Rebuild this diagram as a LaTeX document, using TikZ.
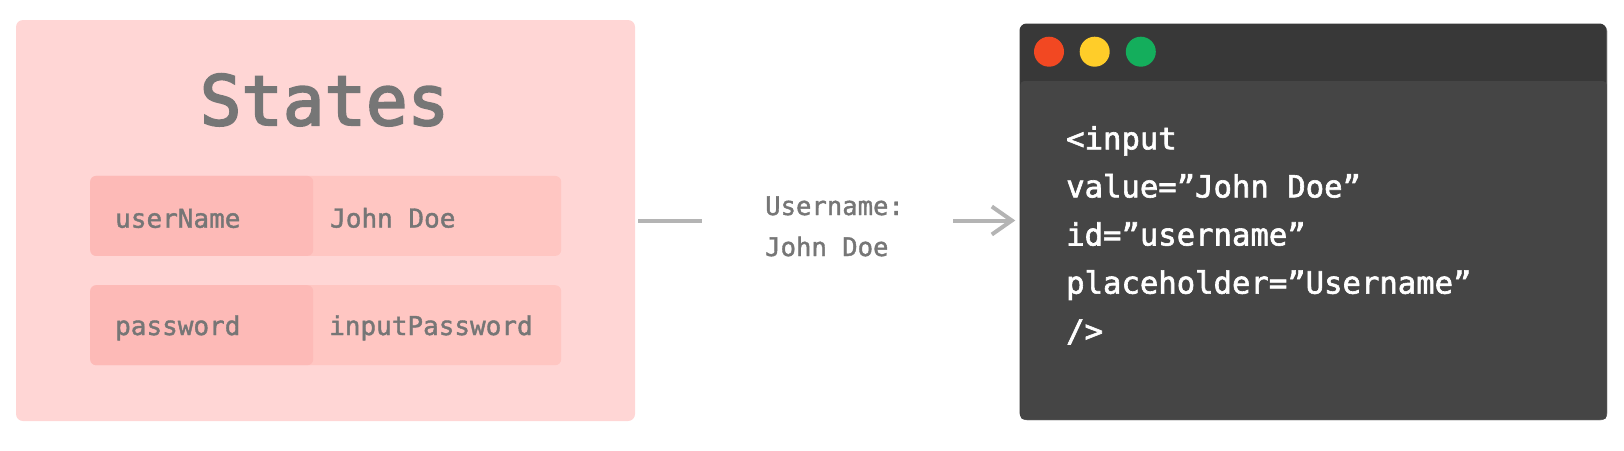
\documentclass[tikz,border=0pt]{standalone}
\usepackage{fontspec}
\newfontfamily\statefont{DejaVu Sans Mono}[FakeBold=1.5]
\newfontfamily\titlefont{DejaVu Sans Mono}[FakeBold=3]
\newfontfamily\codefont{DejaVu Sans Mono}[FakeBold=2]
\usepackage{tikz}
\usetikzlibrary{positioning}
\usetikzlibrary{arrows.meta}
\definecolor{statepink}{HTML}{FFD6D5}
\definecolor{valpink}{HTML}{FFC6C2}
\definecolor{keypink}{HTML}{FDBAB7}
\definecolor{txtgray}{HTML}{767676}
\definecolor{linkgray}{HTML}{B4B4B4}
\definecolor{titlebar}{HTML}{383838}
\definecolor{bodygray}{HTML}{454545}
\definecolor{shadowgray}{HTML}{9A9A9A}
\definecolor{dotred}{HTML}{F24822}
\definecolor{dotyellow}{HTML}{FFCD29}
\definecolor{dotgreen}{HTML}{14AE5C}

\begin{document}
\begin{tikzpicture}[x=1pt,y=-1pt,panel/.style={fill=statepink,rounded corners=7pt,inner sep=0pt},cell/.style={rounded corners=6pt,minimum height=80pt,inner sep=0pt,anchor=north west},mono/.style={font=\statefont\fontsize{26}{26}\selectfont,text=txtgray,inner sep=0pt,anchor=base west},link/.style={draw=linkgray,line width=4pt},dot/.style={circle,minimum size=30pt,inner sep=0pt}]
  \useasboundingbox (0,0) rectangle (1624,450);
  %left
  %states panel
  \node[panel,minimum width=619pt,minimum height=401pt] (states) at (325.5,220.5) {};
  \node[mono,anchor=base,font=\titlefont\fontsize{69}{69}\selectfont] (title) at (324.5,125) {States};
  %rows
  \node[cell,fill=valpink,minimum width=471pt] (row1) at (90,175.7) {};
  \node[cell,fill=keypink,minimum width=223pt] (key1) at (row1.north west) {};
  \node[mono] (key1txt) at (115,227.7) {userName};
  \node[mono] (val1txt) at (330,227.5) {John Doe};
  \node[cell,fill=valpink,minimum width=471pt] (row2) at (90,285) {};
  \node[cell,fill=keypink,minimum width=223pt] (key2) at (row2.north west) {};
  \node[mono] (key2txt) at (115,335) {password};
  \node[mono] (val2txt) at (329,335) {inputPassword};

  %middle
  \node[mono,font=\statefont\fontsize{25.6}{41}\selectfont,align=left] (lbl) at (765,256) {Username:\\John Doe};

  %right
  %window
  \fill[shadowgray,rounded corners=7pt] (1020.3,24.3) rectangle (1607.3,420.3);
  \node[fill=titlebar,rounded corners=7pt,minimum width=587pt,minimum height=396pt,inner sep=0pt,anchor=north west] (win) at (1019.3,23.3) {};
  \fill[bodygray,rounded corners=4pt] (1020.3,81) rectangle (win.south east);
  \node[dot,fill=dotred] (red) at (1049,51.7) {};
  \node[dot,fill=dotyellow,right=15.3pt of red] (yellow) {};
  \node[dot,fill=dotgreen,right=15.7pt of yellow] (green) {};
  \node[font=\codefont\fontsize{30.6}{48.1}\selectfont,text=white,inner sep=0pt,align=left,anchor=base west] (src) at (1066,341.7) {<input\\value=”John Doe”\\id=”username”\\placeholder=”Username”\\/>};

  %connectors
  \draw[link] ([xshift=3pt]states.east) -- ([xshift=-63pt]lbl.west |- states.east);
  \draw[link,-{Straight Barb[length=20pt,width=28pt]}] ([xshift=49pt]lbl.east |- states.east) -- ([xshift=-4pt]win.west |- states.east);
\end{tikzpicture}
\end{document}
